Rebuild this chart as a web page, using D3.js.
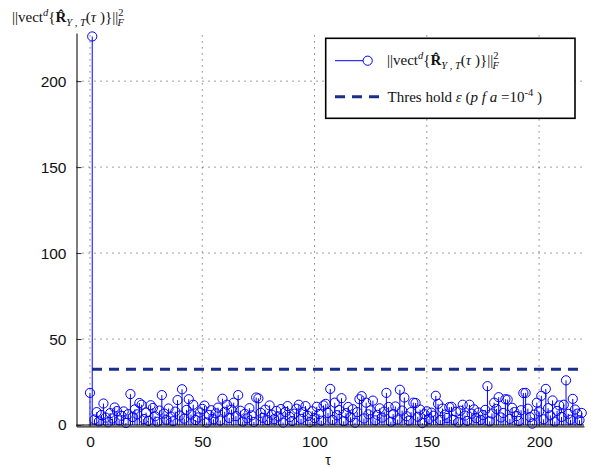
<!DOCTYPE html>
<html>
<head>
<meta charset="utf-8">
<script src="https://cdn.jsdelivr.net/npm/d3@7"></script>
<style>
  html, body { margin: 0; padding: 0; background: #fff; }
  svg { display: block; }
</style>
</head>
<body>
<svg id="chart" width="591" height="468"></svg>
<script>
// ---- data ----
const tauStart = 0;
const values = [
  18.7, 226, 3.2, 7.5, 2.1, 5.8, 12.5, 4.3, 1.6, 6.9,
  3.8, 10.2, 8.1, 2.7, 5.4, 7.9, 1.2, 6.3, 18.0, 4.6,
  9.1, 6.2, 12.8, 11.8, 3.5, 7.2, 2.4, 11.5, 9.9, 5.1,
  1.9, 8.4, 17.4, 6.7, 3.1, 9.6, 4.9, 2.2, 7.8, 14.5,
  5.5, 20.8, 3.7, 8.8, 15.0, 6.1, 11.8, 2.9, 4.4, 7.3,
  9.4, 11.3, 1.5, 5.9, 8.6, 3.3, 6.8, 10.1, 2.6, 15.3,
  7.7, 11.8, 4.1, 9.0, 13.0, 5.2, 17.4, 8.3, 2.0, 6.5,
  3.9, 9.8, 5.6, 1.8, 16.0, 15.5, 7.1, 4.2, 8.9, 2.8,
  11.4, 6.0, 3.4, 8.2, 5.0, 9.3, 1.4, 7.6, 11.0, 4.7,
  2.3, 6.6, 9.5, 11.8, 3.6, 7.4, 11.0, 5.3, 1.7, 8.0,
  4.0, 10.6, 6.4, 2.5, 11.4, 12.3, 7.0, 21.0, 3.0, 13.0,
  5.7, 8.7, 15.6, 2.2, 6.9, 10.5, 4.5, 9.2, 1.3, 7.5,
  15.0, 16.8, 3.8, 13.0, 6.2, 8.5, 14.2, 2.7, 5.9, 9.7,
  4.3, 7.8, 18.7, 10.5, 1.9, 6.4, 10.8, 3.2, 20.5, 8.4,
  16.0, 5.1, 2.6, 7.5, 13.0, 12.8, 4.8, 9.0, 1.1, 6.3,
  8.0, 3.5, 7.2, 5.4, 17.0, 12.3, 2.9, 9.6, 6.0, 4.1,
  10.4, 10.6, 3.0, 7.7, 1.6, 8.3, 11.8, 5.5, 2.4, 11.8,
  6.6, 9.1, 4.0, 7.3, 3.0, 5.8, 8.8, 22.6, 2.1, 6.7,
  13.0, 9.4, 16.2, 4.4, 7.0, 15.0, 14.8, 3.6, 10.0, 7.5,
  5.2, 2.3, 8.6, 18.6, 18.7, 9.5, 4.6, 0.8, 6.1, 13.0,
  7.9, 17.0, 3.3, 21.0, 9.8, 5.6, 14.3, 2.0, 8.2, 11.4,
  4.7, 11.8, 26.0, 6.5, 3.1, 15.2, 9.0, 6.6, 2.8, 7.0
];
const threshold = 32.4;
const xTicks = [0, 50, 100, 150, 200];
const yTicks = [0, 50, 100, 150, 200];
const xDomain = [-6, 220];
const yDomain = [-0.8, 228];

const points = values.map((v, i) => ({ tau: tauStart + i, v }));

// ---- layout ----
const svg = d3.select("#chart");
const L = 76.5, R = 584, T = 33, B = 426.4;
const x = d3.scaleLinear().domain(xDomain).range([L, R]);
const y = d3.scaleLinear().domain(yDomain).range([B, T]);

const sans = "'Liberation Sans', Arial, Helvetica, sans-serif";
const serif = "'Liberation Serif', 'Times New Roman', serif";

// grid
const grid = svg.append("g").attr("stroke", "#111").attr("stroke-width", 0.8)
  .attr("stroke-dasharray", "1,5");
grid.selectAll("line.gx").data(xTicks).join("line")
  .attr("x1", d => x(d)).attr("x2", d => x(d)).attr("y1", B).attr("y2", T);
grid.selectAll("line.gy").data(yTicks).join("line")
  .attr("y1", d => y(d)).attr("y2", d => y(d)).attr("x1", L).attr("x2", R);

// stems
const stems = svg.append("g");
stems.selectAll("line").data(points).join("line")
  .attr("x1", d => x(d.tau)).attr("x2", d => x(d.tau))
  .attr("y1", y(0)).attr("y2", d => y(d.v))
  .attr("stroke", "#0000ff").attr("stroke-width", 1);
stems.selectAll("circle").data(points).join("circle")
  .attr("cx", d => x(d.tau)).attr("cy", d => y(d.v)).attr("r", 4.6)
  .attr("fill", "none").attr("stroke", "#0000ff").attr("stroke-width", 1);

// baseline
svg.append("line").attr("x1", L).attr("x2", R).attr("y1", y(0)).attr("y2", y(0))
  .attr("stroke", "#000").attr("stroke-width", 1);

// threshold
svg.append("line")
  .attr("x1", x(0) + 2).attr("x2", x(values.length - 1))
  .attr("y1", y(threshold)).attr("y2", y(threshold))
  .attr("stroke", "#1a2f8c").attr("stroke-width", 3)
  .attr("stroke-dasharray", "10,7");

// axes
const xAxis = d3.axisBottom(x).tickValues(xTicks).tickSizeInner(-5).tickSizeOuter(0).tickPadding(10);
const yAxis = d3.axisLeft(y).tickValues(yTicks).tickSizeInner(-5).tickSizeOuter(0).tickPadding(10);
const gx = svg.append("g").attr("transform", `translate(0,${B})`).call(xAxis);
const gy = svg.append("g").attr("transform", `translate(${L},0)`).call(yAxis);
[gx, gy].forEach(g => {
  g.select(".domain").attr("stroke", "#262626").attr("stroke-width", 1.2);
  g.selectAll(".tick line").attr("stroke", "#262626");
  g.selectAll(".tick text").attr("fill", "#111").style("font-family", sans).style("font-size", "15.5px");
});

// x label
svg.append("text").attr("x", 328).attr("y", 465).attr("text-anchor", "middle")
  .style("font-family", sans).style("font-size", "14px").attr("fill", "#111").text("τ");

// formula helper
function formula(sel, fs) {
  sel.style("font-family", serif).style("font-size", fs + "px").attr("fill", "#111");
  sel.append("tspan").text("||vect");
  sel.append("tspan").attr("dy", -6).style("font-size", (fs * 0.7) + "px").style("font-style", "italic").text("d");
  sel.append("tspan").attr("dy", 6).text("{");
  sel.append("tspan").style("font-weight", "bold").text("R\u0302");
  sel.append("tspan").attr("dy", 4).style("font-size", (fs * 0.7) + "px").style("font-style", "italic").text("Y , T");
  sel.append("tspan").attr("dy", -4).text("(");
  sel.append("tspan").style("font-style", "italic").text("τ");
  sel.append("tspan").text(" )}||");
  sel.append("tspan").attr("dy", -6).style("font-size", (fs * 0.7) + "px").text("2");
  sel.append("tspan").attr("dx", -6).attr("dy", 10).style("font-size", (fs * 0.7) + "px").style("font-style", "italic").text("F");
}

// y label
formula(svg.append("text").attr("x", 12).attr("y", 22), 15);

// legend
const lg = svg.append("g");
lg.append("rect").attr("x", 325.7).attr("y", 38.3).attr("width", 249.3).attr("height", 80)
  .attr("fill", "#fff").attr("stroke", "#000").attr("stroke-width", 1.6);
lg.append("line").attr("x1", 335).attr("x2", 363).attr("y1", 60.7).attr("y2", 60.7)
  .attr("stroke", "#0000ff").attr("stroke-width", 1);
lg.append("circle").attr("cx", 367.7).attr("cy", 60.7).attr("r", 4.6)
  .attr("fill", "none").attr("stroke", "#0000ff").attr("stroke-width", 1);
formula(lg.append("text").attr("x", 387).attr("y", 65), 15);
lg.append("line").attr("x1", 335).attr("x2", 382).attr("y1", 96.7).attr("y2", 96.7)
  .attr("stroke", "#1a2f8c").attr("stroke-width", 3).attr("stroke-dasharray", "10,7");
const t2 = lg.append("text").attr("x", 387.5).attr("y", 101.5)
  .style("font-family", serif).style("font-size", "15px").attr("fill", "#111");
t2.append("tspan").text("Thres hold ");
t2.append("tspan").style("font-style", "italic").text("ε");
t2.append("tspan").text(" (");
t2.append("tspan").style("font-style", "italic").text("p f a");
t2.append("tspan").text(" =10");
t2.append("tspan").attr("dy", -6).style("font-size", "10.5px").text("-4");
t2.append("tspan").attr("dy", 6).text("  )");
</script>
</body>
</html>
